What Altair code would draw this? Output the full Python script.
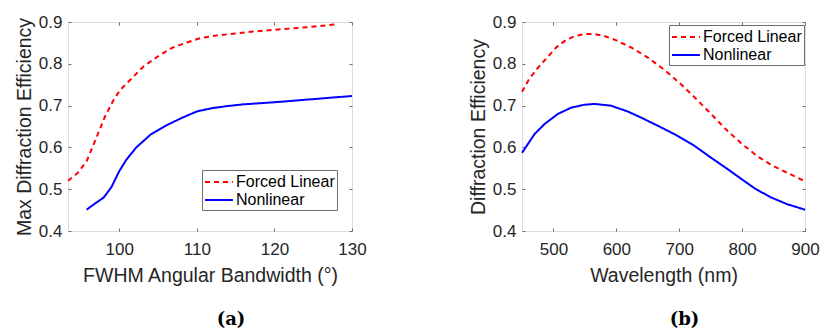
import altair as alt
import pandas as pd

FONT = "Liberation Sans"
TEXT = "#262626"
FRAME = "#6e6e6e"

series_names = ["Forced Linear", "Nonlinear"]
series_colors = ["#FF0000", "#0000FF"]
series_dashes = [[5, 4], [1, 0]]

y_ticks = [0.4, 0.5, 0.6, 0.7, 0.8, 0.9]

# Panel (a): Max diffraction efficiency vs FWHM angular bandwidth
a_x_ticks = [100, 110, 120, 130]
a_x_fl = [93.4, 94.6, 95.8, 97.1, 98.1, 99.2, 100.1, 101.6, 103.1, 105.0, 106.8,
          108.7, 110.4, 112.6, 114.7, 117.3, 119.9, 122.5, 125.1, 127.8]
a_y_fl = [0.520, 0.538, 0.567, 0.625, 0.671, 0.711, 0.737, 0.765, 0.793, 0.818, 0.838,
          0.851, 0.861, 0.868, 0.872, 0.877, 0.881, 0.885, 0.889, 0.894]
a_x_nl = [95.8, 96.9, 98.0, 99.0, 100.0, 100.9, 102.2, 104.0, 106.0, 108.0, 110.0,
          112.0, 114.0, 116.0, 120.0, 124.0, 130.0]
a_y_nl = [0.451, 0.466, 0.480, 0.505, 0.543, 0.570, 0.600, 0.630, 0.652, 0.670, 0.686,
          0.694, 0.699, 0.703, 0.708, 0.714, 0.723]

# Panel (b): Diffraction efficiency vs wavelength
b_x_ticks = [500, 600, 700, 800, 900]
b_x_fl = [450, 462, 475, 490, 505, 520, 535, 550, 565, 580, 600, 625, 650, 675,
          700, 725, 750, 775, 800, 825, 850, 875, 900]
b_y_fl = [0.733, 0.765, 0.790, 0.815, 0.840, 0.857, 0.867, 0.871, 0.871, 0.867, 0.856,
          0.838, 0.815, 0.787, 0.755, 0.719, 0.681, 0.642, 0.608, 0.578, 0.555, 0.537, 0.519]
b_x_nl = [450, 470, 486, 507, 528, 549, 565, 591, 618, 644, 671, 697, 724, 750,
          777, 803, 820, 845, 872, 900]
b_y_nl = [0.587, 0.632, 0.656, 0.680, 0.695, 0.702, 0.704, 0.700, 0.686, 0.668, 0.648,
          0.628, 0.604, 0.576, 0.548, 0.520, 0.502, 0.481, 0.464, 0.451]


def make_df(x_fl, y_fl, x_nl, y_nl):
    d1 = pd.DataFrame({"x": x_fl, "y": y_fl, "series": series_names[0]})
    d2 = pd.DataFrame({"x": x_nl, "y": y_nl, "series": series_names[1]})
    return pd.concat([d1, d2], ignore_index=True)


def panel(df, xtitle, ytitle, xdomain, xticks, lx, ly, label, w, h):
    xs = alt.Scale(domain=xdomain, nice=False, zero=False)
    ys = alt.Scale(domain=[0.4, 0.9], nice=False, zero=False)
    leg = alt.Legend(
        orient="none", legendX=lx, legendY=ly, title=None,
        symbolType="M-1,0H2.1", symbolSize=324, symbolStrokeWidth=2,
        labelFont=FONT, labelFontSize=16, labelColor="#000000",
        fillColor="white", strokeColor=FRAME, padding=2, labelOffset=12,
        rowPadding=0,
    )
    main = alt.Chart(df).mark_line(strokeWidth=2).encode(
        x=alt.X("x:Q", scale=xs, axis=alt.Axis(
            orient="bottom", values=xticks, title=xtitle, ticks=False, domain=False,
            grid=False, labelFont=FONT, labelFontSize=17, labelColor=TEXT,
            labelPadding=10, titleFont=FONT, titleFontSize=19.5, titleFontWeight="normal",
            titleColor=TEXT, titlePadding=9, labelFlush=False)),
        y=alt.Y("y:Q", scale=ys, axis=alt.Axis(
            orient="left", values=y_ticks, format=".1f", title=ytitle, ticks=False,
            domain=False, grid=False, labelFont=FONT, labelFontSize=17, labelColor=TEXT,
            labelPadding=6, titleFont=FONT, titleFontSize=19.5, titleFontWeight="normal",
            titleColor=TEXT, titlePadding=4, labelFlush=False)),
        color=alt.Color("series:N", scale=alt.Scale(domain=series_names, range=series_colors), legend=leg),
        strokeDash=alt.StrokeDash("series:N", scale=alt.Scale(domain=series_names, range=series_dashes), legend=leg),
    )

    def ticks(xo, yo):
        return alt.Chart(df).mark_line(strokeOpacity=0).encode(
            x=alt.X("x:Q", scale=xs, axis=alt.Axis(
                orient=xo, values=xticks, labels=False, title=None, domain=False,
                grid=False, tickSize=3, tickColor=FRAME, offset=-3)),
            y=alt.Y("y:Q", scale=ys, axis=alt.Axis(
                orient=yo, values=y_ticks, labels=False, title=None, domain=False,
                grid=False, tickSize=3, tickColor=FRAME, offset=-3)),
            detail="series:N",
        )

    return alt.layer(main, ticks("bottom", "left"), ticks("top", "right")).resolve_axis(
        x="independent", y="independent"
    ).properties(
        width=w, height=h,
        title=alt.TitleParams(text=label, orient="bottom", font="DejaVu Serif",
                              fontWeight="bold", fontSize=18, color="#000000",
                              anchor="middle", dx=21, offset=26),
    )


df_a = make_df(a_x_fl, a_y_fl, a_x_nl, a_y_nl)
df_b = make_df(b_x_fl, b_y_fl, b_x_nl, b_y_nl)

pa = panel(df_a, "FWHM Angular Bandwidth (°)", "Max Diffraction Efficiency",
           [93.4, 130], a_x_ticks, 134, 148, "(a)", 284, 209)
pb = panel(df_b, "Wavelength (nm)", "Diffraction Efficiency",
           [450, 900], b_x_ticks, 147, 3, "(b)", 283, 209)

chart = alt.hconcat(pa, pb, spacing=100).resolve_legend(
    color="independent", strokeDash="independent"
).resolve_scale(
    color="independent", strokeDash="independent"
).properties(
    padding={"left": 13, "top": 12, "right": 0, "bottom": 0}
).configure_view(stroke=FRAME, strokeWidth=1).configure(background="white")

chart.save("out.html", embed_options={"renderer": "svg", "actions": False})
